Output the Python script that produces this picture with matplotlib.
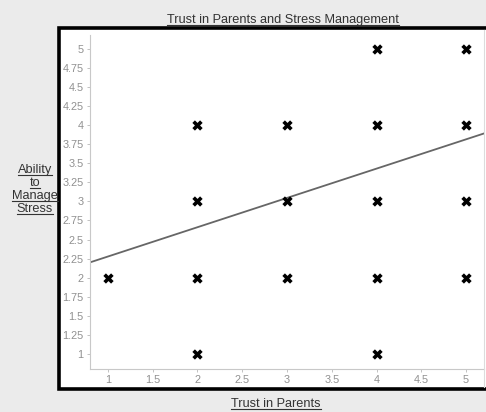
import matplotlib
matplotlib.use("Agg")
import matplotlib.pyplot as plt
from matplotlib.patches import Rectangle
from matplotlib.lines import Line2D
import numpy as np

plt.rcParams['font.family'] = ['Liberation Sans', 'DejaVu Sans']

# Survey responses: trust in parents vs. ability to manage stress
trust = [1, 2, 2, 2, 2, 3, 3, 3, 4, 4, 4, 4, 4, 5, 5, 5, 5]
stress = [2, 4, 3, 2, 1, 4, 3, 2, 5, 4, 3, 2, 1, 5, 4, 3, 2]

# Fitted trend line
fit_intercept = 1.893
fit_slope = 0.384

x_ticks = [1, 1.5, 2, 2.5, 3, 3.5, 4, 4.5, 5]
x_tick_labels = ["1", "1.5", "2", "2.5", "3", "3.5", "4", "4.5", "5"]
y_ticks = [1, 1.25, 1.5, 1.75, 2, 2.25, 2.5, 2.75, 3, 3.25, 3.5, 3.75, 4, 4.25, 4.5, 4.75, 5]
y_tick_labels = ["1", "1.25", "1.5", "1.75", "2", "2.25", "2.5", "2.75", "3", "3.25",
                 "3.5", "3.75", "4", "4.25", "4.5", "4.75", "5"]

title_text = "Trust in Parents and Stress Management"
xlabel_text = "Trust in Parents"
ylabel_lines = ["Ability", "to", "Manage", "Stress"]

W, H = 486, 412
fig = plt.figure(figsize=(W / 100, H / 100), dpi=100)
fig.patch.set_facecolor("#ebebeb")

# White plot panel with heavy black frame
panel = Rectangle((59 / W, 1 - 389 / H), (W + 10 - 59) / W, (389 - 28) / H,
                  transform=fig.transFigure, facecolor="white", edgecolor="black",
                  linewidth=2.6, zorder=-5)
fig.patches.append(panel)
# faint divider along the right side of the panel
fig.lines.append(Line2D([483.5 / W, 483.5 / W], [1 - 387 / H, 1 - 30 / H],
                        transform=fig.transFigure, color="#dcdcdc", linewidth=0.8))

ax = fig.add_axes([90 / W, 1 - 369 / H, (484 - 90) / W, (369 - 35) / H])
ax.set_zorder(2)
ax.set_facecolor("none")
ax.set_xlim(0.8, 5.2)
ax.set_ylim(0.803, 5.18)

ax.scatter(trust, stress, marker="X", s=55, color="black", linewidths=0, zorder=3)

xs = np.array(ax.get_xlim())
ax.plot(xs, fit_intercept + fit_slope * xs, color="#666666", linewidth=1.3, zorder=2)

ax.set_xticks(x_ticks)
ax.set_xticklabels(x_tick_labels)
ax.set_yticks(y_ticks)
ax.set_yticklabels(y_tick_labels)
ax.tick_params(axis="both", colors="#b8b8b8", labelcolor="#909090", labelsize=7.8,
               length=2.5, width=0.6, pad=2)
for side in ("top", "right"):
    ax.spines[side].set_visible(False)
for side in ("left", "bottom"):
    ax.spines[side].set_color("#c8c8c8")
    ax.spines[side].set_linewidth(0.8)

txt_color = "#333333"
fs = 9.2
title = fig.text(283 / W, 1 - 23 / H, title_text, ha="center", va="baseline",
                 fontsize=fs, color=txt_color)
xlab = fig.text(276 / W, 1 - 407 / H, xlabel_text, ha="center", va="baseline",
                fontsize=fs, color=txt_color)
ylabs = []
for i, line in enumerate(ylabel_lines):
    ylabs.append(fig.text(35 / W, 1 - (173 + i * 13) / H, line, ha="center",
                          va="baseline", fontsize=fs, color=txt_color))

# Underline each caption just below its baseline
fig.canvas.draw()
renderer = fig.canvas.get_renderer()
for t in [title, xlab] + ylabs:
    bb = t.get_window_extent(renderer)
    base_y = t.get_transform().transform(t.get_position())[1]
    y = base_y - 1.8
    fig.lines.append(Line2D([bb.x0 / W, bb.x1 / W], [y / H, y / H],
                            transform=fig.transFigure, color=txt_color, linewidth=0.8))

fig.savefig("out.png", dpi=100, facecolor=fig.get_facecolor())
